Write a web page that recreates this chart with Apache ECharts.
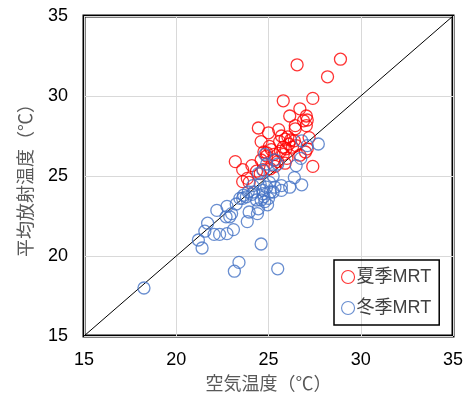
<!DOCTYPE html>
<html><head><meta charset="utf-8">
<script src="https://cdn.jsdelivr.net/npm/echarts@6/dist/echarts.min.js"></script>
<style>html,body{margin:0;padding:0;background:#fff}#c{width:470px;height:399px}</style>
</head><body><div id="c"></div>
<script>
const summerMRT = [[28.9,32.3],[26.55,31.95],[28.2,31.2],[25.8,29.7],[27.4,29.85],[26.7,29.2],[26.15,28.75],[27.05,28.75],[27.1,28.5],[26.9,28.45],[27.05,28.15],[26.45,28.15],[26.45,27.95],[24.45,28.0],[25.0,27.7],[25.55,27.9],[25.7,27.5],[25.9,27.3],[26.05,27.45],[26.2,27.25],[26.4,27.2],[27.2,27.4],[24.6,27.15],[25.05,26.85],[25.15,26.65],[25.8,26.8],[25.95,26.7],[26.1,27.0],[26.5,26.9],[27.1,26.7],[27.0,26.5],[24.9,26.45],[25.3,26.35],[25.8,26.35],[24.9,26.25],[24.75,26.5],[25.5,25.9],[25.9,25.8],[23.2,25.9],[24.1,25.65],[23.6,25.4],[27.4,25.6],[24.7,25.4],[25.35,25.6],[23.6,24.65],[23.85,24.85],[24.35,25.3],[24.55,25.15],[25.1,25.45],[23.95,24.6],[26.7,26.3],[25.6,27.15],[25.3,26.0],[26.3,26.8],[26.0,26.1],[25.65,26.55],[24.6,26.0]];
const winterMRT = [[18.25,18.0],[21.2,21.0],[21.4,20.5],[21.55,21.55],[21.7,22.05],[22.2,22.85],[22.05,21.35],[22.35,21.35],[22.75,21.4],[23.1,21.65],[22.75,23.1],[22.9,22.45],[23.0,22.65],[23.25,23.25],[23.45,23.6],[23.65,23.8],[23.9,24.0],[24.1,23.85],[23.85,22.15],[23.95,22.75],[24.4,22.65],[24.45,22.95],[24.6,20.75],[23.15,19.05],[23.4,19.6],[25.5,19.2],[24.15,24.4],[24.45,25.15],[24.7,25.35],[24.8,26.35],[24.55,24.5],[24.7,24.1],[24.75,23.7],[24.8,23.4],[24.7,23.9],[24.9,24.3],[25.05,24.6],[25.25,24.0],[25.35,24.3],[25.7,24.1],[25.7,24.4],[26.15,24.3],[26.4,24.9],[26.8,24.45],[26.5,25.65],[26.75,26.1],[26.8,27.2],[27.7,27.0],[27.1,26.9],[25.35,26.0],[25.5,25.75],[25.25,25.0],[24.9,25.75],[24.35,23.5],[23.8,23.7],[22.7,22.45],[25.0,23.6],[25.1,24.0],[24.6,23.5],[24.95,23.2],[24.2,24.0],[23.6,23.6]];
const diagonal = [[15,15],[35,35]];
const seriesNames = ['夏季MRT','冬季MRT'];
const xName = '空気温度（℃）';
const yName = '平均放射温度（℃）';
const axisMin = 15, axisMax = 35, axisStep = 5;

const FONT = '"Liberation Sans", "Noto Sans CJK JP", sans-serif';
const chart = echarts.init(document.getElementById('c'), null, {renderer:'canvas'});
chart.setOption({
  animation:false,
  textStyle:{fontFamily:FONT},
  grid:{left:84,top:16,width:369,height:320,show:true,borderColor:'#000',borderWidth:3,backgroundColor:'transparent'},
  xAxis:{type:'value',min:axisMin,max:axisMax,interval:axisStep,
    name:xName,nameLocation:'middle',nameGap:40,
    nameTextStyle:{fontSize:18,color:'#595959',fontFamily:FONT},
    axisLine:{show:false},axisTick:{show:false},
    axisLabel:{fontSize:18,color:'#000',margin:15,fontFamily:FONT},
    splitLine:{lineStyle:{color:'#d9d9d9',width:1}}},
  yAxis:{type:'value',min:axisMin,max:axisMax,interval:axisStep,
    name:yName,nameLocation:'middle',nameGap:48,
    nameTextStyle:{fontSize:18,color:'#595959',fontFamily:FONT},
    axisLine:{show:false},axisTick:{show:false},
    axisLabel:{fontSize:18,color:'#000',margin:16,fontFamily:FONT},
    splitLine:{lineStyle:{color:'#d9d9d9',width:1}}},
  legend:{orient:'vertical',left:334,top:260,
    data:seriesNames,itemWidth:13,itemHeight:13,itemGap:13,
    itemStyle:{borderWidth:1.1},
    padding:[8,8,8,7],borderColor:'#000',borderWidth:1.5,
    textStyle:{fontSize:18,color:'#404040',fontFamily:FONT,padding:[0,0,0,-3]}},
  series:[
    {type:'line',data:diagonal,symbol:'none',silent:true,z:1,
      lineStyle:{color:'#000',width:1}},
    {name:seriesNames[0],type:'scatter',data:summerMRT,symbol:'circle',symbolSize:12,
      itemStyle:{color:'transparent',borderColor:'#ff0000',borderWidth:1.3},z:3},
    {name:seriesNames[1],type:'scatter',data:winterMRT,symbol:'circle',symbolSize:12,
      itemStyle:{color:'transparent',borderColor:'#4472c4',borderWidth:1.3},z:4}
  ]
});
</script></body></html>
